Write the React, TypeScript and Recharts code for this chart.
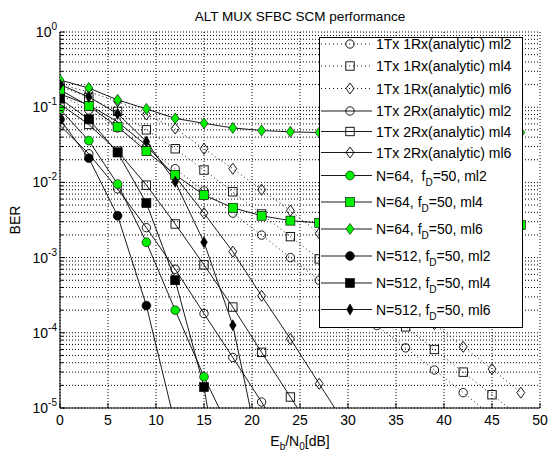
import React from 'react';
import { LineChart, Line, XAxis, YAxis, CartesianGrid } from 'recharts';

const FONT = '"Liberation Sans", Arial, Helvetica, sans-serif';
const GREEN = '#00f000';

// Eb/N0 sample points (dB)
const snrDb = [0, 3, 6, 9, 12, 15, 18, 21, 24, 27, 30, 33, 36, 39, 42, 45, 48];

// 1Tx 1Rx analytic
const ber1x1Ml2 = [0.146, 0.092, 0.053, 0.0288, 0.0152, 0.0077, 0.0039, 0.00199, 0.001, 0.0005, 0.00025, 0.000125, 0.000063, 0.000032, 0.000016, 0.0000079];
const ber1x1Ml4 = [0.19, 0.135, 0.088, 0.05, 0.028, 0.0146, 0.0075, 0.0038, 0.0019, 0.00096, 0.00048, 0.00024, 0.00012, 0.00006, 0.00003, 0.000015, 0.0000075];
const ber1x1Ml6 = [0.2, 0.16, 0.12, 0.08, 0.052, 0.028, 0.0152, 0.008, 0.0042, 0.0021, 0.00104, 0.00052, 0.00026, 0.00013, 0.000065, 0.000033, 0.000016];
// 1Tx 2Rx analytic
const ber1x2Ml2 = [0.057, 0.024, 0.0082, 0.0025, 0.0007, 0.00018, 0.000047, 0.000012, 0.000003];
const ber1x2Ml4 = [0.11, 0.059, 0.026, 0.0092, 0.0028, 0.0008, 0.00022, 0.000055, 0.000014, 0.0000035];
const ber1x2Ml6 = [0.15, 0.107, 0.064, 0.031, 0.012, 0.0039, 0.0012, 0.00031, 0.000083, 0.000021, 0.0000053];
// N=64 simulation
const berN64Ml2 = [0.094, 0.036, 0.0095, 0.0016, 0.0002, 0.000026, 0.0000042];
const berN64Ml4 = [0.17, 0.104, 0.055, 0.026, 0.0126, 0.0068, 0.0046, 0.0036, 0.0031, 0.0029, 0.0028, 0.0028, 0.0027, 0.0027, 0.0027, 0.0027, 0.0027];
const berN64Ml6 = [0.23, 0.18, 0.125, 0.095, 0.071, 0.061, 0.053, 0.049, 0.047, 0.046, 0.046, 0.046, 0.046, 0.046, 0.046, 0.046, 0.046];
// N=512 simulation
const berN512Ml2 = [0.069, 0.021, 0.0036, 0.00023, 0.000006];
const berN512Ml4 = [0.13, 0.069, 0.025, 0.0053, 0.0005, 0.000019, 0.0000001];
const berN512Ml6 = [0.2, 0.137, 0.082, 0.035, 0.0102, 0.0016, 0.000126, 0.0000019];

// ticks
const xTicks = [0, 5, 10, 15, 20, 25, 30, 35, 40, 45, 50];
const decadeTicks = [1e-5, 1e-4, 1e-3, 1e-2, 1e-1, 1];
const minorMantissas = [2, 3, 4, 5, 6, 7, 8, 9];
const yTicks = [
  ...decadeTicks,
  ...decadeTicks.slice(0, -1).flatMap((d) => minorMantissas.map((m) => m * d)),
].sort((a, b) => a - b);

type Kind = 'circle' | 'square' | 'diamond';
interface SeriesDef {
  key: string;
  label: { pre: string; sub?: string; post?: string };
  values: number[];
  kind: Kind;
  fill: string;
  dotted: boolean;
}

const series: SeriesDef[] = [
  { key: 's0', label: { pre: '1Tx 1Rx(analytic) ml2' }, values: ber1x1Ml2, kind: 'circle', fill: 'none', dotted: true },
  { key: 's1', label: { pre: '1Tx 1Rx(analytic) ml4' }, values: ber1x1Ml4, kind: 'square', fill: 'none', dotted: true },
  { key: 's2', label: { pre: '1Tx 1Rx(analytic) ml6' }, values: ber1x1Ml6, kind: 'diamond', fill: 'none', dotted: true },
  { key: 's3', label: { pre: '1Tx 2Rx(analytic) ml2' }, values: ber1x2Ml2, kind: 'circle', fill: 'none', dotted: false },
  { key: 's4', label: { pre: '1Tx 2Rx(analytic) ml4' }, values: ber1x2Ml4, kind: 'square', fill: 'none', dotted: false },
  { key: 's5', label: { pre: '1Tx 2Rx(analytic) ml6' }, values: ber1x2Ml6, kind: 'diamond', fill: 'none', dotted: false },
  { key: 's6', label: { pre: 'N=64,  f', sub: 'D', post: '=50, ml2' }, values: berN64Ml2, kind: 'circle', fill: GREEN, dotted: false },
  { key: 's7', label: { pre: 'N=64, f', sub: 'D', post: '=50, ml4' }, values: berN64Ml4, kind: 'square', fill: GREEN, dotted: false },
  { key: 's8', label: { pre: 'N=64, f', sub: 'D', post: '=50, ml6' }, values: berN64Ml6, kind: 'diamond', fill: GREEN, dotted: false },
  { key: 's9', label: { pre: 'N=512, f', sub: 'D', post: '=50, ml2' }, values: berN512Ml2, kind: 'circle', fill: '#000', dotted: false },
  { key: 's10', label: { pre: 'N=512, f', sub: 'D', post: '=50, ml4' }, values: berN512Ml4, kind: 'square', fill: '#000', dotted: false },
  { key: 's11', label: { pre: 'N=512, f', sub: 'D', post: '=50, ml6' }, values: berN512Ml6, kind: 'diamond', fill: '#000', dotted: false },
];

const rows = snrDb.map((snr, i) => {
  const r: Record<string, number | undefined> = { snr };
  series.forEach((s) => {
    r[s.key] = s.values[i];
  });
  return r;
});

const legendRowsY = [44, 66, 88.5, 111, 131.5, 152.5, 175.5, 202, 229, 256, 283, 309.5];

function Marker({ kind, cx, cy, fill }: { kind: Kind; cx: number; cy: number; fill: string }) {
  const open = fill === 'none';
  const sw = open ? 0.9 : 0.6;
  const stroke = '#000';
  if (kind === 'circle') {
    return <circle cx={cx} cy={cy} r={open ? 4.2 : 4.4} fill={fill} stroke={stroke} strokeWidth={sw} />;
  }
  if (kind === 'square') {
    const h = open ? 4.2 : 4.5;
    return <rect x={cx - h} y={cy - h} width={2 * h} height={2 * h} fill={fill} stroke={stroke} strokeWidth={sw} />;
  }
  const hw = fill === '#000' ? 3.3 : 4;
  const hh = 5.5;
  return (
    <polygon
      points={`${cx},${cy - hh} ${cx + hw},${cy} ${cx},${cy + hh} ${cx - hw},${cy}`}
      fill={fill}
      stroke={stroke}
      strokeWidth={sw}
    />
  );
}

const isDecade = (v: number) => Math.abs(Math.log10(v) - Math.round(Math.log10(v))) < 1e-6;

const LeftTick = (p: any) => {
  const { x, y, payload } = p;
  const v = payload.value as number;
  const major = isDecade(v);
  const e = Math.round(Math.log10(v));
  return (
    <g>
      <line x1={x} x2={x + (major ? 5 : 3)} y1={y} y2={y} stroke="#000" strokeWidth={1} />
      {major && (
        <text x={x - 3} y={y + 5} textAnchor="end" fontSize={14} fontFamily={FONT} fill="#000">
          10
          <tspan fontSize={10} dy={-7}>
            {String(e)}
          </tspan>
        </text>
      )}
    </g>
  );
};

const RightTick = (p: any) => {
  const { x, y, payload } = p;
  const major = isDecade(payload.value as number);
  return <line x1={x} x2={x - (major ? 5 : 3)} y1={y} y2={y} stroke="#000" strokeWidth={1} />;
};

const BottomTick = (p: any) => {
  const { x, y, payload } = p;
  return (
    <g>
      <line x1={x} x2={x} y1={y} y2={y - 5} stroke="#000" strokeWidth={1} />
      <text x={x} y={y + 17} textAnchor="middle" fontSize={14} fontFamily={FONT} fill="#000">
        {payload.value}
      </text>
    </g>
  );
};

const TopTick = (p: any) => {
  const { x, y } = p;
  return <line x1={x} x2={x} y1={y} y2={y + 5} stroke="#000" strokeWidth={1} />;
};

function makeDot(s: SeriesDef) {
  return (p: any) => {
    const k = `${s.key}-${p.index}`;
    if (p.cx == null || p.cy == null || p.value == null || Number.isNaN(p.cy)) return <g key={k} />;
    return (
      <g key={k}>
        <Marker kind={s.kind} cx={p.cx} cy={p.cy} fill={s.fill} />
      </g>
    );
  };
}

function Legend() {
  return (
    <g fontFamily={FONT} fontSize={14} fill="#000">
      <rect x={319.5} y={37.5} width={203} height={290} fill="#fff" stroke="#000" strokeWidth={1} />
      {series.map((s, i) => {
        const y = legendRowsY[i];
        return (
          <g key={s.key}>
            <line
              x1={321}
              x2={372}
              y1={y}
              y2={y}
              stroke="#000"
              strokeWidth={0.9}
              strokeDasharray={s.dotted ? '1 3' : undefined}
            />
            <Marker kind={s.kind} cx={350} cy={y} fill={s.fill} />
            <text x={376} y={y + 5} style={{ whiteSpace: 'pre' }}>
              {s.label.pre}
              {s.label.sub && (
                <tspan fontSize={10} dy={5}>
                  {s.label.sub}
                </tspan>
              )}
              {s.label.post && <tspan dy={s.label.sub ? -5 : 0}>{s.label.post}</tspan>}
            </text>
          </g>
        );
      })}
    </g>
  );
}

export default function App() {
  return (
    <div style={{ position: 'absolute', left: 0, top: 0, width: 548, height: 452, background: '#fff' }}>
      <LineChart width={548} height={452} data={rows} margin={{ top: 32, right: 8, bottom: 0, left: 0 }}>
        <CartesianGrid stroke="#000" strokeWidth={1} strokeDasharray="1 2" />
        <XAxis
          dataKey="snr"
          type="number"
          domain={[0, 50]}
          allowDataOverflow
          ticks={xTicks}
          interval={0}
          height={44}
          tickLine={false}
          tickSize={0}
          tickMargin={0}
          axisLine={{ stroke: '#000' }}
          tick={BottomTick}
        />
        <XAxis
          xAxisId="top"
          orientation="top"
          type="number"
          domain={[0, 50]}
          allowDataOverflow
          ticks={xTicks}
          interval={0}
          height={0}
          tickLine={false}
          tickSize={0}
          tickMargin={0}
          axisLine={{ stroke: '#000' }}
          tick={TopTick}
        />
        <YAxis
          scale="log"
          type="number"
          domain={[1e-5, 1]}
          allowDataOverflow
          ticks={yTicks}
          interval={0}
          width={60}
          tickLine={false}
          tickSize={0}
          tickMargin={0}
          axisLine={{ stroke: '#000' }}
          tick={LeftTick}
        />
        <YAxis
          yAxisId="right"
          orientation="right"
          scale="log"
          type="number"
          domain={[1e-5, 1]}
          allowDataOverflow
          ticks={yTicks}
          interval={0}
          width={0}
          tickLine={false}
          tickSize={0}
          tickMargin={0}
          axisLine={{ stroke: '#000' }}
          tick={RightTick}
        />
        {series.map((s) => (
          <Line
            key={s.key}
            dataKey={s.key}
            type="linear"
            stroke="#000"
            strokeWidth={0.9}
            strokeDasharray={s.dotted ? '1 3' : undefined}
            dot={makeDot(s)}
            activeDot={false}
            isAnimationActive={false}
            legendType="none"
          />
        ))}
      </LineChart>
      <svg
        width={548}
        height={452}
        style={{ position: 'absolute', left: 0, top: 0, pointerEvents: 'none' }}
      >
        <text x={300} y={21} textAnchor="middle" fontSize={13.5} fontFamily={FONT} fill="#000">
          ALT MUX SFBC SCM performance
        </text>
        <text transform="translate(20,220) rotate(-90)" textAnchor="middle" fontSize={14} fontFamily={FONT} fill="#000">
          BER
        </text>
        <text x={300} y={446} textAnchor="middle" fontSize={14} fontFamily={FONT} fill="#000">
          E
          <tspan fontSize={10} dy={4}>
            b
          </tspan>
          <tspan dy={-4}>/N</tspan>
          <tspan fontSize={10} dy={4}>
            0
          </tspan>
          <tspan dy={-4}>[dB]</tspan>
        </text>
        <Legend />
      </svg>
    </div>
  );
}
